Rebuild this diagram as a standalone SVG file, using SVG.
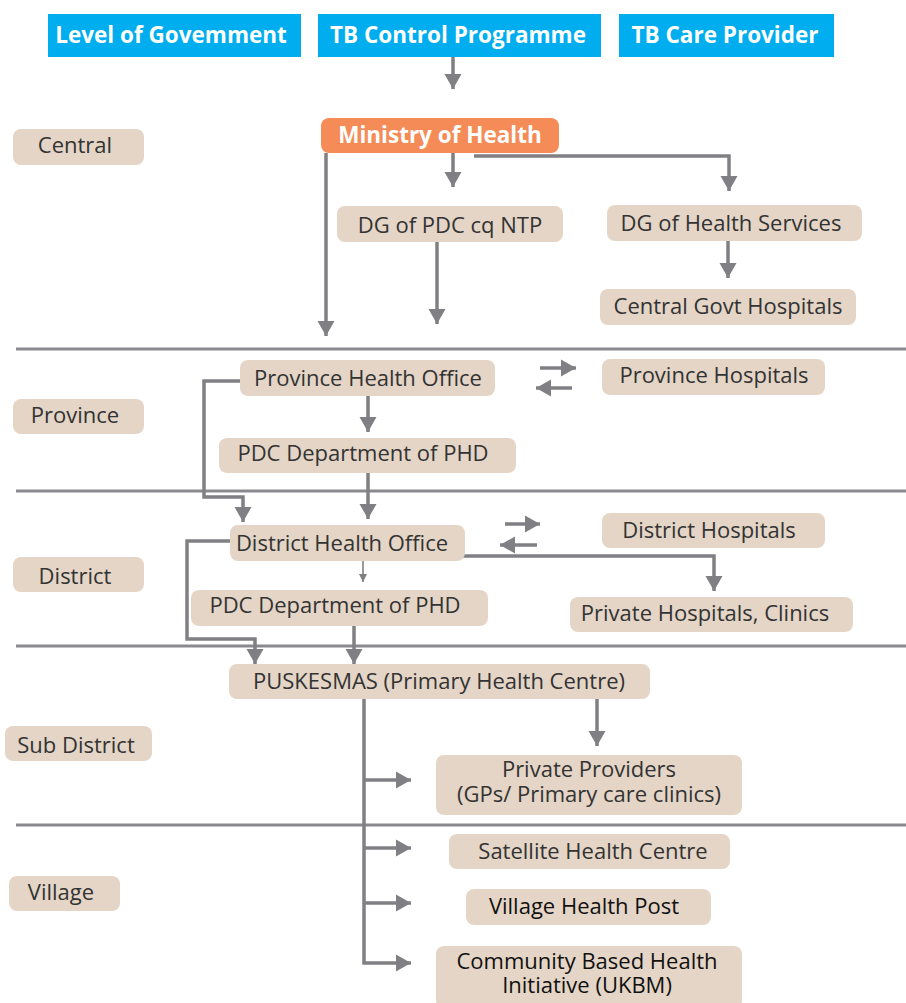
<svg xmlns="http://www.w3.org/2000/svg" width="906" height="1003" viewBox="0 0 906 1003">
<style>
.hdr{fill:#00AEEF}
.hdrt{fill:#fff;font-family:"Open Sans","Liberation Sans",sans-serif;font-weight:700;font-size:22.5px;text-anchor:middle}
.box{fill:#E4D5C6}
.t{fill:#333;font-family:"Open Sans","Liberation Sans",sans-serif;font-size:22px;text-anchor:middle}
.tb{fill:#111}
.sep{stroke:#8a8a8e;stroke-width:3;fill:none}
.c{stroke:#808084;stroke-width:3.5;fill:none}
.thin{stroke:#808084;stroke-width:1.6;fill:none}
</style>
<defs>
<marker id="ah" markerUnits="userSpaceOnUse" markerWidth="18" markerHeight="18" refX="15" refY="9" orient="auto" viewBox="0 0 18 18">
<path d="M0,0.5 L15,9 L0,17.5 z" fill="#808084"/>
</marker>
<marker id="ahs" markerUnits="userSpaceOnUse" markerWidth="10" markerHeight="10" refX="8" refY="5" orient="auto" viewBox="0 0 10 10">
<path d="M0,1 L8,5 L0,9 z" fill="#808084"/>
</marker>
</defs>
<rect width="906" height="1003" fill="#fff"/>

<g id="separators">
<line class="sep" x1="16" y1="349" x2="906" y2="349"/>
<line class="sep" x1="16" y1="491" x2="906" y2="491"/>
<line class="sep" x1="16" y1="646" x2="906" y2="646"/>
<line class="sep" x1="16" y1="825" x2="906" y2="825"/>
</g>

<g id="headers">
<g id="h-level"><rect class="hdr" x="48" y="14" width="253" height="43"/><text class="hdrt" x="171" y="43">Level of Govemment</text></g>
<g id="h-tbcp"><rect class="hdr" x="318" y="14" width="283" height="43"/><text class="hdrt" x="458" y="43">TB Control Programme</text></g>
<g id="h-tbcare"><rect class="hdr" x="619" y="14" width="215" height="43"/><text class="hdrt" x="725" y="43">TB Care Provider</text></g>
</g>

<g id="levels">
<g id="l-central"><rect class="box" x="13" y="129" width="131" height="36" rx="8"/><text class="t" x="75" y="153">Central</text></g>
<g id="l-province"><rect class="box" x="13" y="399" width="131" height="35" rx="8"/><text class="t" x="75" y="423">Province</text></g>
<g id="l-district"><rect class="box" x="13" y="557" width="131" height="35" rx="8"/><text class="t" x="75" y="584">District</text></g>
<g id="l-subdistrict"><rect class="box" x="5" y="726" width="147" height="35" rx="8"/><text class="t" x="76" y="753">Sub District</text></g>
<g id="l-village"><rect class="box" x="9" y="876" width="111" height="35" rx="8"/><text class="t" x="61" y="900">Village</text></g>
</g>

<g id="connectors">
<line class="c" x1="453" y1="57" x2="453" y2="89" marker-end="url(#ah)"/>
<line class="c" x1="326" y1="153" x2="326" y2="336" marker-end="url(#ah)"/>
<line class="c" x1="453" y1="153" x2="453" y2="187" marker-end="url(#ah)"/>
<polyline class="c" points="474,156 729,156 729,191" marker-end="url(#ah)"/>
<line class="c" x1="437" y1="242" x2="437" y2="324" marker-end="url(#ah)"/>
<line class="c" x1="728" y1="241" x2="728" y2="278" marker-end="url(#ah)"/>
<line class="c" x1="540" y1="368" x2="576" y2="368" marker-end="url(#ah)"/>
<line class="c" x1="572" y1="388" x2="536" y2="388" marker-end="url(#ah)"/>
<line class="c" x1="368" y1="396" x2="368" y2="432" marker-end="url(#ah)"/>
<line class="c" x1="368" y1="473" x2="368" y2="519" marker-end="url(#ah)"/>
<polyline class="c" points="240,381 204,381 204,497 243,497 243,522" marker-end="url(#ah)"/>
<line class="c" x1="505" y1="524" x2="540" y2="524" marker-end="url(#ah)"/>
<line class="c" x1="537" y1="545" x2="500" y2="545" marker-end="url(#ah)"/>
<polyline class="c" points="463,556 714,556 714,591" marker-end="url(#ah)"/>
<line class="thin" x1="363" y1="561" x2="363" y2="582" marker-end="url(#ahs)"/>
<polyline class="c" points="230,541 187,541 187,639 255,639 255,664" marker-end="url(#ah)"/>
<line class="c" x1="354" y1="626" x2="354" y2="664" marker-end="url(#ah)"/>
<line class="c" x1="597" y1="699" x2="597" y2="746" marker-end="url(#ah)"/>
<polyline class="c" points="364,699 364,963 411,963" marker-end="url(#ah)"/>
<line class="c" x1="364" y1="780" x2="411" y2="780" marker-end="url(#ah)"/>
<line class="c" x1="364" y1="848" x2="411" y2="848" marker-end="url(#ah)"/>
<line class="c" x1="364" y1="903" x2="411" y2="903" marker-end="url(#ah)"/>
</g>

<g id="n-moh"><rect x="321" y="118" width="238" height="35" rx="8" fill="#F58B57"/><text class="hdrt" x="440" y="143">Ministry of Health</text></g>
<g id="n-dgpdc"><rect class="box" x="337" y="206" width="226" height="36" rx="8"/><text class="t" x="450" y="233">DG of PDC cq NTP</text></g>
<g id="n-dghs"><rect class="box" x="607" y="205" width="255" height="36" rx="8"/><text class="t" x="731" y="231">DG of Health Services</text></g>
<g id="n-cgh"><rect class="box" x="600" y="289" width="256" height="36" rx="8"/><text class="t" x="728" y="314">Central Govt Hospitals</text></g>
<g id="n-pho"><rect class="box" x="240" y="360" width="255" height="36" rx="8"/><text class="t" x="368" y="386">Province Health Office</text></g>
<g id="n-ph"><rect class="box" x="602" y="359" width="223" height="36" rx="8"/><text class="t" x="714" y="383">Province Hospitals</text></g>
<g id="n-ppdc"><rect class="box" x="219" y="438" width="297" height="35" rx="8"/><text class="t" x="363" y="461">PDC Department of PHD</text></g>
<g id="n-dho"><rect class="box" x="230" y="525" width="235" height="36" rx="8"/><text class="t" x="342" y="551">District Health Office</text></g>
<g id="n-dh"><rect class="box" x="602" y="513" width="223" height="35" rx="8"/><text class="t" x="709" y="538">District Hospitals</text></g>
<g id="n-phc"><rect class="box" x="570" y="597" width="283" height="35" rx="8"/><text class="t" x="705" y="621">Private Hospitals, Clinics</text></g>
<g id="n-dpdc"><rect class="box" x="191" y="590" width="297" height="36" rx="8"/><text class="t" x="335" y="613">PDC Department of PHD</text></g>
<g id="n-pusk"><rect class="box" x="229" y="664" width="421" height="35" rx="8"/><text class="t" x="439" y="689">PUSKESMAS (Primary Health Centre)</text></g>
<g id="n-pp"><rect class="box" x="436" y="755" width="306" height="60" rx="8"/><text class="t"><tspan x="589" y="777">Private Providers</tspan><tspan x="589" y="802">(GPs/ Primary care clinics)</tspan></text></g>
<g id="n-shc"><rect class="box" x="449" y="834" width="281" height="35" rx="8"/><text class="t" x="593" y="859">Satellite Health Centre</text></g>
<g id="n-vhp"><rect class="box" x="466" y="889" width="245" height="36" rx="8"/><text class="t tb" x="584" y="914">Village Health Post</text></g>
<g id="n-ukbm"><rect class="box" x="436" y="946" width="306" height="62" rx="8"/><text class="t tb"><tspan x="587" y="969">Community Based Health</tspan><tspan x="587" y="993">Initiative (UKBM)</tspan></text></g>
</svg>
